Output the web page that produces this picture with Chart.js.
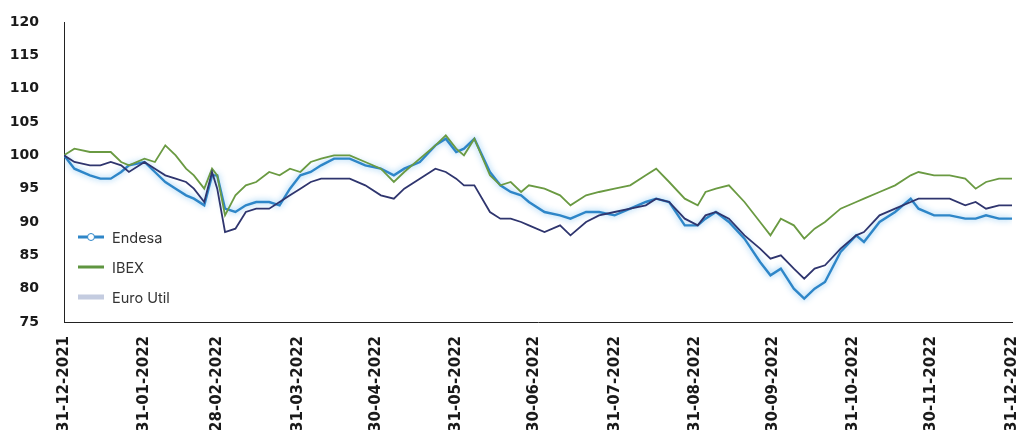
<!DOCTYPE html>
<html>
<head>
<meta charset="utf-8">
<script src="https://cdn.jsdelivr.net/npm/chart.js@4/dist/chart.umd.min.js"></script>
<style>
  html, body { margin: 0; padding: 0; background: #fff; overflow: hidden; }
  #wrap { position: relative; width: 1016px; height: 430px; }
  #legend { position: absolute; left: 78px; top: 222px; font-family: Inter, "Liberation Sans", sans-serif; font-size: 14.5px; color: #333; }
  .item { display: flex; align-items: center; height: 30px; }
  .sw { position: relative; width: 26px; height: 14px; margin-right: 8px; }
  .sw .ln { position: absolute; left: 0; right: 0; top: 50%; transform: translateY(-50%); }
  .sw .dot { position: absolute; left: 9px; top: 3px; width: 6px; height: 6px; border-radius: 50%; background: #fff; border: 1px solid #2e86c8; }
</style>
</head>
<body>
<div id="wrap">
  <canvas id="lineChart" width="1016" height="430"></canvas>
  <div id="legend"></div>
</div>
<script>
// days since 31-12-2021
var days = [0,4,10,14,18,22,25,31,35,39,43,47,50,54,57,59,62,66,70,74,79,83,87,91,95,99,104,110,116,122,127,131,137,143,147,151,154,158,164,168,172,176,179,185,191,195,201,206,212,218,224,228,233,239,244,247,251,256,262,268,272,276,281,285,289,293,299,305,308,314,320,326,329,335,341,347,351,355,360,365];

var endesa = [100,98,97,96.5,96.5,97.5,98.5,99,97.5,96, 95,94,93.5,92.5,97,97,92,91.5,92.5,93, 93,92.5,95,97,97.5,98.5,99.5,99.5,98.5,98, 97,98,99,101.5,102.5,100.5,101,102.5,97.5,95.5, 94.5,94,93,91.5,91,90.5,91.5,91.5,91,92, 93,93.5,93,89.5,89.5,90.5,91.5,90,87.5,84, 82,83,80,78.5,80,81,85.5,88,87,90, 91.5,93.5,92,91,91,90.5,90.5,91,90.5,90.5];

var ibex = [100,101,100.5,100.5,100.5,99,98.5,99.5,99,101.5, 100,98,97,95,98,97,91,94,95.5,96, 97.5,97,98,97.5,99,99.5,100,100,99,98, 96,97.5,99.5,101.5,103,101,100,102.5,97,95.5, 96,94.5,95.5,95,94,92.5,94,94.5,95,95.5, 97,98,96,93.5,92.5,94.5,95,95.5,93,90, 88,90.5,89.5,87.5,89,90,92,93,93.5,94.5, 95.5,97,97.5,97,97,96.5,95,96,96.5,96.5];

var euroUtil = [100,99,98.5,98.5,99,98.5,97.5,99,98,97, 96.5,96,95,93,97.5,95,88.5,89,91.5,92, 92,93,94,95,96,96.5,96.5,96.5,95.5,94, 93.5,95,96.5,98,97.5,96.5,95.5,95.5,91.5,90.5, 90.5,90,89.5,88.5,89.5,88,90,91,91.5,92, 92.5,93.5,93,90.5,89.5,91,91.5,90.5,88,86, 84.5,85,83,81.5,83,83.5,86,88,88.5,91, 92,93,93.5,93.5,93.5,92.5,93,92,92.5,92.5];

var tickDays = [0,31,59,90,120,151,181,212,243,273,304,334,365];
var tickLabels = ['31-12-2021','31-01-2022','28-02-2022','31-03-2022','30-04-2022','31-05-2022','30-06-2022','31-07-2022','31-08-2022','30-09-2022','31-10-2022','30-11-2022','31-12-2022'];

function pts(arr) {
    return arr.map(function (v, i) { return { x: days[i], y: v }; });
}

var series = [
    { label: 'Endesa', data: endesa, color: '#2e86c8', width: 2.4, legendColor: '#2e86c8', legendH: 3, dot: true },
    { label: 'IBEX', data: ibex, color: '#6a9a42', width: 1.8, legendColor: '#5f9540', legendH: 3 },
    { label: 'Euro Util', data: euroUtil, color: '#2f356e', width: 1.8, legendColor: '#c4cce0', legendH: 5 }
];

// soft halo round the Endesa line (drawn last, so index 2)
var haloPlugin = {
    id: 'halo',
    beforeDatasetDraw: function (chart, args) {
        if (args.index === 2) {
            chart.ctx.save();
            chart.ctx.shadowColor = 'rgba(110,185,240,0.9)';
            chart.ctx.shadowBlur = 6;
        }
    },
    afterDatasetDraw: function (chart, args) {
        if (args.index === 2) chart.ctx.restore();
    }
};

var yFont = { family: '"DejaVu Sans", sans-serif', size: 14, weight: 'bold' };
var xFont = { family: '"DejaVu Sans", sans-serif', size: 15, weight: 'bold' };

new Chart(document.getElementById('lineChart').getContext('2d'), {
    type: 'line',
    data: {
        datasets: series.map(function (s) {
            return {
                label: s.label,
                data: pts(s.data),
                borderColor: s.color,
                borderWidth: s.width,
                pointRadius: 0,
                tension: 0,
                fill: false
            };
        }).reverse()
    },
    options: {
        responsive: false,
        animation: false,
        layout: { padding: { top: 22, right: 4, left: 0, bottom: 0 } },
        plugins: { legend: { display: false }, tooltip: { enabled: false } },
        scales: {
            x: {
                type: 'linear',
                min: 0,
                max: 365,
                grid: { display: false },
                border: { display: true, color: '#222', width: 1 },
                afterBuildTicks: function (scale) {
                    scale.ticks = tickDays.map(function (d) { return { value: d }; });
                },
                afterFit: function (scale) {
                    scale.height = 108;
                    scale.paddingLeft = 0;
                    scale.paddingRight = 0;
                },
                ticks: {
                    autoSkip: false,
                    minRotation: 90,
                    maxRotation: 90,
                    padding: 6,
                    color: '#1a1a1a',
                    font: xFont,
                    callback: function (v) { return tickLabels[tickDays.indexOf(v)]; }
                }
            },
            y: {
                min: 75,
                max: 120,
                grid: { display: false },
                border: { display: true, color: '#222', width: 1 },
                afterFit: function (scale) {
                    scale.width = 64;
                    scale.paddingTop = 0;
                    scale.paddingBottom = 0;
                },
                ticks: { stepSize: 5, padding: 17, color: '#1a1a1a', font: yFont }
            }
        }
    },
    plugins: [haloPlugin]
});

// legend sits inside the plot area, lower left
var legend = document.getElementById('legend');
series.forEach(function (s) {
    var item = document.createElement('div');
    item.className = 'item';
    var sw = document.createElement('span');
    sw.className = 'sw';
    var ln = document.createElement('span');
    ln.className = 'ln';
    ln.style.height = s.legendH + 'px';
    ln.style.background = s.legendColor;
    sw.appendChild(ln);
    if (s.dot) {
        var dot = document.createElement('span');
        dot.className = 'dot';
        sw.appendChild(dot);
    }
    item.appendChild(sw);
    item.appendChild(document.createTextNode(s.label));
    legend.appendChild(item);
});
</script>
</body>
</html>
